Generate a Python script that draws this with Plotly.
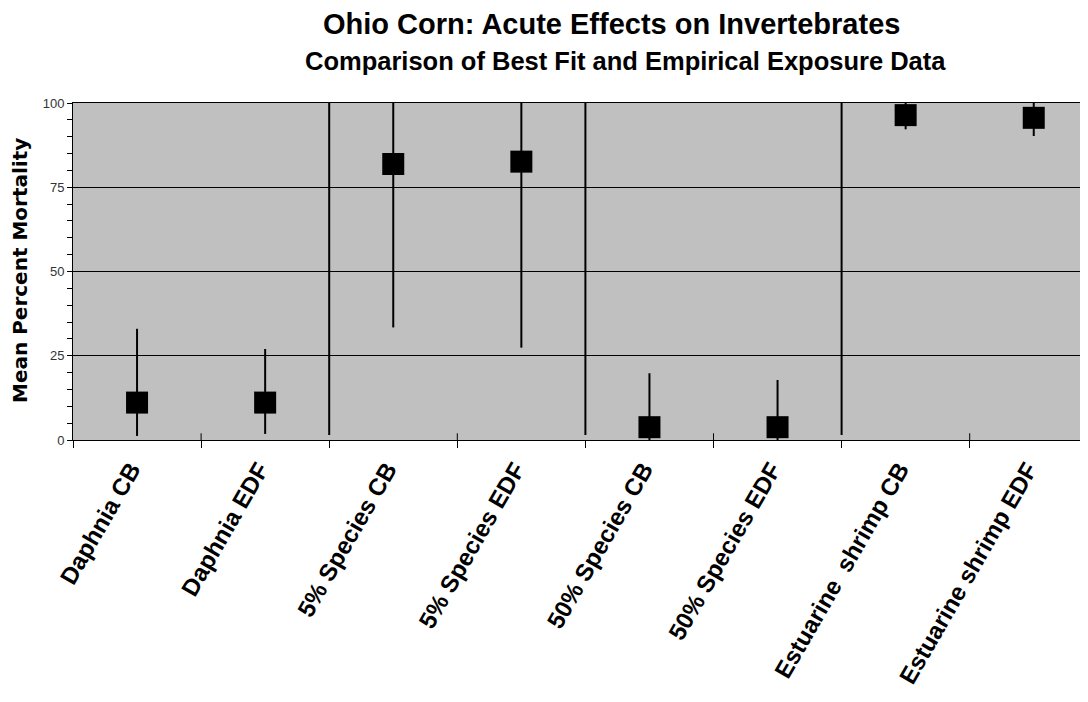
import plotly.graph_objects as go

categories = ["Daphnia CB", "Daphnia EDF", "5% Species CB", "5% Species EDF",
              "50% Species CB", "50% Species EDF", "Estuarine  shrimp CB", "Estuarine shrimp EDF"]
mean_mortality = [11.1, 11.1, 81.9, 82.6, 3.8, 3.8, 96.4, 95.6]
upper_bound = [33.0, 27.0, 100.0, 100.0, 19.8, 17.8, 100.0, 100.0]
lower_bound = [1.2, 1.8, 33.4, 27.4, 0.0, 0.0, 92.2, 90.2]
y_ticks = [0, 25, 50, 75, 100]
group_separators = [1.5, 3.5, 5.5]
inner_ticks = [0.5, 2.5, 4.5, 6.5]

err_plus = [u - m for u, m in zip(upper_bound, mean_mortality)]
err_minus = [m - l for m, l in zip(mean_mortality, lower_bound)]

# page body has an 8px margin; compensate so the figure lands where the reference is
OFF = 8
W, H = 1088 - OFF, 702 - OFF
L, R, T = 73 - OFF, 0, 103 - OFF
ph = 337
B = H - T - ph
pw = W - L - R

fig = go.Figure()
fig.add_trace(go.Scatter(
    x=categories, y=mean_mortality, mode="markers",
    marker=dict(symbol="square", size=22, color="black"),
    error_y=dict(type="data", array=err_plus, arrayminus=err_minus,
                 width=0, thickness=2, color="black", symmetric=False),
    showlegend=False,
))

shapes = []
for s in group_separators:
    shapes.append(dict(type="line", xref="x", yref="y", x0=s, x1=s, y0=1.5, y1=100,
                       line=dict(color="black", width=2)))
for s in inner_ticks:
    shapes.append(dict(type="line", xref="x", yref="y", x0=s, x1=s, y0=0, y1=2,
                       line=dict(color="black", width=1)))

def px_x(px):
    return (px - OFF - L) / pw

def px_y(py):
    return (T + ph - (py - OFF)) / ph

annotations = [
    dict(text="<b>Ohio Corn: Acute Effects on Invertebrates</b>", xref="paper", yref="paper",
         x=px_x(611), y=px_y(24), showarrow=False, xanchor="center", yanchor="middle",
         font=dict(family="Liberation Sans, Arial", size=29, color="black")),
    dict(text="<b>Comparison of Best Fit and Empirical Exposure Data</b>", xref="paper", yref="paper",
         x=px_x(625), y=px_y(61), showarrow=False, xanchor="center", yanchor="middle",
         font=dict(family="Liberation Sans, Arial", size=25.5, color="black")),
    dict(text="<b>Mean Percent Mortality</b>", xref="paper", yref="paper",
         x=px_x(20), y=px_y(271), showarrow=False, textangle=-90,
         xanchor="center", yanchor="middle", borderpad=0,
         font=dict(family="DejaVu Sans", size=20, color="black")),
]

fig.update_layout(
    width=W, height=H,
    margin=dict(l=L, r=R, t=T, b=B, pad=0),
    paper_bgcolor="white", plot_bgcolor="#c0c0c0",
    shapes=shapes, annotations=annotations,
    xaxis=dict(
        type="category", range=[-0.5, -0.5 + pw / 128.1],
        tickson="boundaries", ticks="outside", ticklen=7, tickcolor="black", tickwidth=1,
        showline=True, linecolor="black", linewidth=1, mirror=True,
        showgrid=False, zeroline=False, tickangle=-60,
        ticklabelshift=-6, ticklabelstandoff=5,
        tickfont=dict(family="Liberation Sans, Arial", size=24, color="black", weight="bold"),
    ),
    yaxis=dict(
        range=[0, 100], tickvals=y_ticks, ticks="outside", ticklen=5, tickcolor="black",
        showline=True, linecolor="black", linewidth=1,
        showgrid=True, gridcolor="black", gridwidth=1, zeroline=False,
        minor=dict(dtick=5, ticks="outside", ticklen=5, tickcolor="black", showgrid=False),
        tickfont=dict(family="Liberation Sans, Arial", size=13, color="#333333"),
    ),
)

fig.write_html("out.html")
